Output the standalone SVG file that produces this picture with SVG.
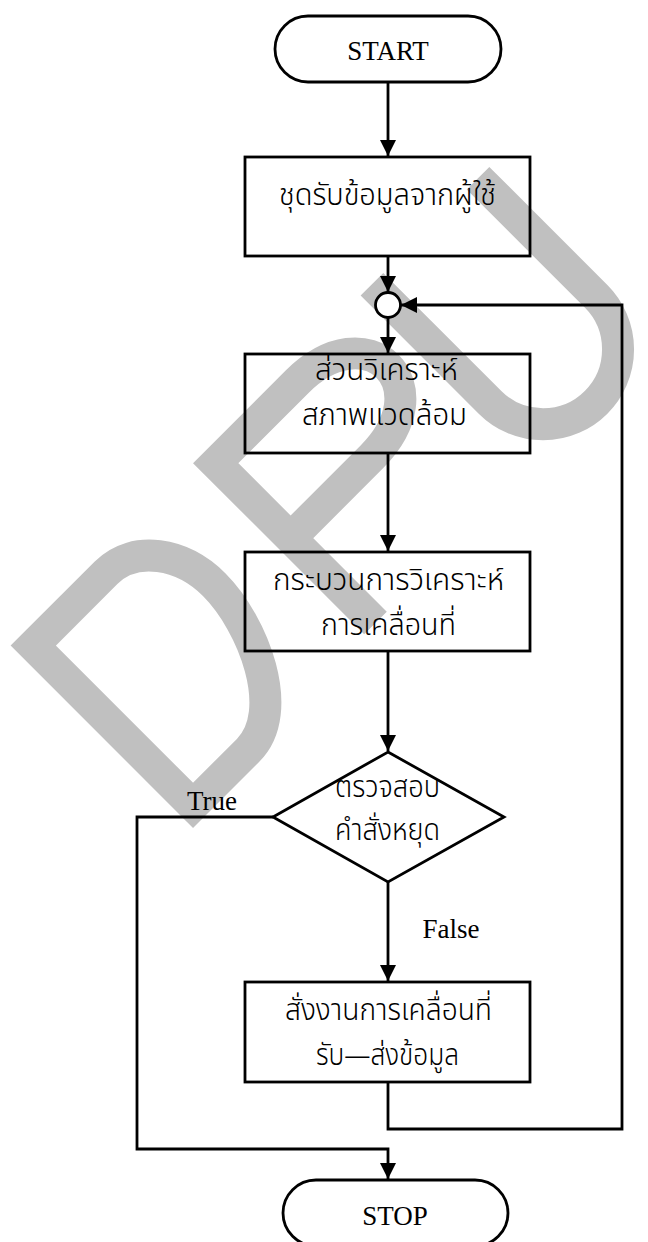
<svg xmlns="http://www.w3.org/2000/svg" width="648" height="1242" viewBox="0 0 648 1242">
<defs>
<style>
.wm{fill:none;stroke:#c0c0c0;stroke-width:32;stroke-linejoin:miter;stroke-linecap:butt}
.shape{fill:none;stroke:#000;stroke-width:2.8}
.line{fill:none;stroke:#000;stroke-width:2.8}
.lat{font-family:"Liberation Serif","Times New Roman",serif;font-size:27px;fill:#000}
.th{font-family:"Noto Sans Thai","Noto Sans","DejaVu Sans",sans-serif;font-size:30px;font-weight:300;fill:#000}
</style>
<marker id="ah" viewBox="0 0 16 16" refX="16" refY="8" markerWidth="16" markerHeight="16" orient="auto" markerUnits="userSpaceOnUse"><path d="M0,0 L16,8 L0,16 Z" fill="#000"/></marker>
</defs>
<rect width="648" height="1242" fill="#fff"/>
<g id="watermark" transform="rotate(-45)">
<path class="wm" d="M-433,706 L-433,480 L-330,480 C-290,480 -262,520 -262,565 C-262,620 -300,706 -355,706 Z"/>
<path class="wm" d="M-175,706 L-175,480 L-60,480 C-12,480 15,505 15,533 C15,561 -12,586 -60,586 L-175,586"/>
<path class="wm" d="M62,464 L62,631 A75,75 0 0 0 212,631 L212,464"/>
</g>
<g id="connectors">
<path class="line" d="M388,82 L388,156" marker-end="url(#ah)"/>
<path class="line" d="M388,256 L388,292" marker-end="url(#ah)"/>
<path class="line" d="M388,318 L388,353" marker-end="url(#ah)"/>
<path class="line" d="M388,453 L388,551" marker-end="url(#ah)"/>
<path class="line" d="M388,651 L388,751" marker-end="url(#ah)"/>
<path class="line" d="M273,817 L137,817 L137,1149 L388,1149 L388,1179" marker-end="url(#ah)"/>
<path class="line" d="M388,882 L388,981" marker-end="url(#ah)"/>
<path class="line" d="M388,1082 L388,1129 L622,1129 L622,305 L401,305" marker-end="url(#ah)"/>
<text class="lat" x="212" y="810" text-anchor="middle">True</text>
<text class="lat" x="451" y="938" text-anchor="middle">False</text>
</g>
<g id="start">
<rect class="shape" x="275" y="16" width="226" height="66" rx="33" ry="33"/>
<text class="lat" x="388" y="60" text-anchor="middle">START</text>
</g>
<g id="input">
<rect class="shape" x="245" y="157" width="285" height="99"/>
<text class="th" x="279" y="205" textLength="217" lengthAdjust="spacingAndGlyphs">ชุดรับข้อมูลจากผู้ใช้</text>
</g>
<g id="junction">
<circle cx="388" cy="305" r="12.5" fill="#fff" stroke="#000" stroke-width="2.8"/>
</g>
<g id="env">
<rect class="shape" x="245" y="354" width="285" height="99"/>
<text class="th" x="315" y="380" textLength="143" lengthAdjust="spacingAndGlyphs">ส่วนวิเคราะห์</text>
<text class="th" x="302" y="425" textLength="165" lengthAdjust="spacingAndGlyphs">สภาพแวดล้อม</text>
</g>
<g id="motion">
<rect class="shape" x="245" y="552" width="285" height="99"/>
<text class="th" x="273" y="590" textLength="231" lengthAdjust="spacingAndGlyphs">กระบวนการวิเคราะห์</text>
<text class="th" x="321" y="635" textLength="135" lengthAdjust="spacingAndGlyphs">การเคลื่อนที่</text>
</g>
<g id="check">
<polygon class="shape" points="388,752 504,817 388,882 273,817"/>
<text class="th" x="335" y="797" textLength="105" lengthAdjust="spacingAndGlyphs">ตรวจสอบ</text>
<text class="th" x="335" y="840" textLength="105" lengthAdjust="spacingAndGlyphs">คำสั่งหยุด</text>
</g>
<g id="command">
<rect class="shape" x="245" y="982" width="285" height="100"/>
<text class="th" x="285" y="1020" textLength="207" lengthAdjust="spacingAndGlyphs">สั่งงานการเคลื่อนที่</text>
<text class="th" x="316" y="1065" textLength="143" lengthAdjust="spacingAndGlyphs">รับ—ส่งข้อมูล</text>
</g>
<g id="stop">
<rect class="shape" x="283" y="1180" width="225" height="66" rx="33" ry="33"/>
<text class="lat" x="395" y="1225" text-anchor="middle">STOP</text>
</g>
</svg>
